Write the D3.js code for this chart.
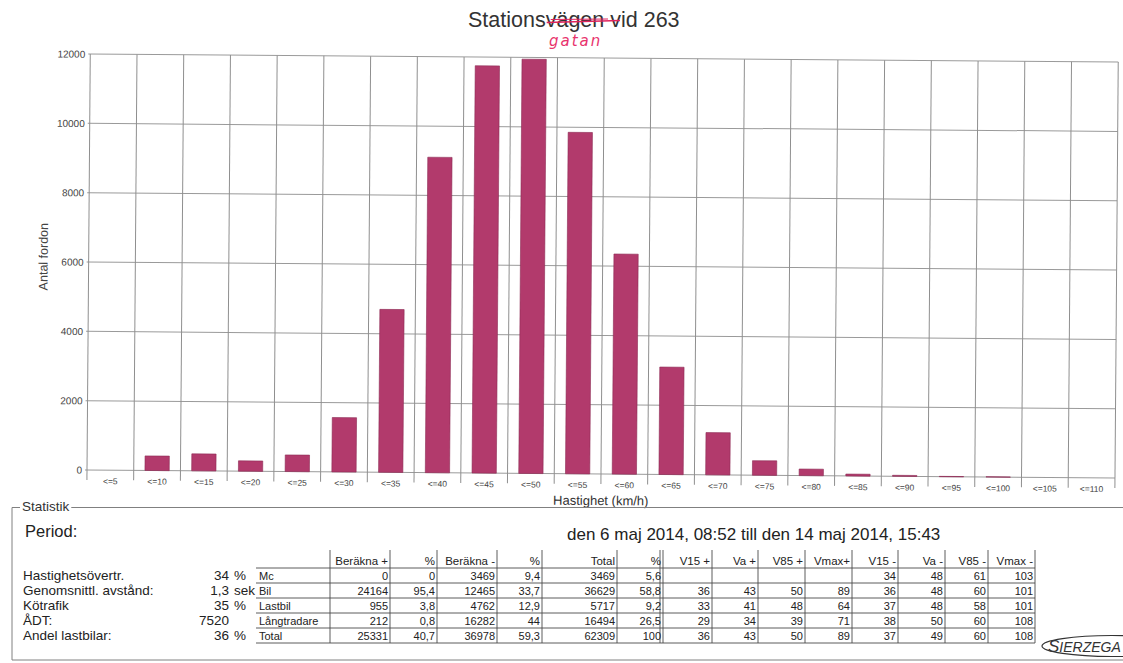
<!DOCTYPE html>
<html>
<head>
<meta charset="utf-8">
<script src="https://cdn.jsdelivr.net/npm/d3@7"></script>
<style>
body { margin: 0; background: #fff; }
svg { display: block; font-family: "Liberation Sans", Arial, sans-serif; }
</style>
</head>
<body>
<svg width="1123" height="663"></svg>
<script>
// histogram: speed classes and number of vehicles in each
var speedClasses = ["<=5", "<=10", "<=15", "<=20", "<=25", "<=30", "<=35", "<=40", "<=45", "<=50", "<=55",
                    "<=60", "<=65", "<=70", "<=75", "<=80", "<=85", "<=90", "<=95", "<=100", "<=105", "<=110"];
var vehicleCounts = [0, 420, 490, 300, 480, 1570, 4700, 9100, 11750, 11950, 9850,
                     6350, 3100, 1220, 420, 190, 55, 30, 10, 10, 0, 0];
var yTicks = [0, 2000, 4000, 6000, 8000, 10000, 12000];

// statistics block
var periodText = "den 6 maj 2014, 08:52 till den 14 maj 2014, 15:43";
var statLabels = ["Hastighetsövertr.", "Genomsnittl. avstånd:", "Kötrafik", "ÅDT:", "Andel lastbilar:"];
var statValues = ["34", "1,3", "35", "7520", "36"];
var statUnits = ["%", "sek", "%", "", "%"];

var rowLabels = ["Mc", "Bil", "Lastbil", "Långtradare", "Total"];
var colHeaders = ["Beräkna +", "%", "Beräkna -", "%", "Total", "%", "V15 +", "Va +", "V85 +", "Vmax+",
                  "V15 -", "Va -", "V85 -", "Vmax -"];
var beraknaPlus = ["0", "24164", "955", "212", "25331"];
var pctPlus = ["0", "95,4", "3,8", "0,8", "40,7"];
var beraknaMinus = ["3469", "12465", "4762", "16282", "36978"];
var pctMinus = ["9,4", "33,7", "12,9", "44", "59,3"];
var totals = ["3469", "36629", "5717", "16494", "62309"];
var pctTotal = ["5,6", "58,8", "9,2", "26,5", "100"];
var v15Plus = ["", "36", "33", "29", "36"];
var vaPlus = ["", "43", "41", "34", "43"];
var v85Plus = ["", "50", "48", "39", "50"];
var vmaxPlus = ["", "89", "64", "71", "89"];
var v15Minus = ["34", "36", "37", "38", "37"];
var vaMinus = ["48", "48", "48", "50", "49"];
var v85Minus = ["61", "60", "58", "60", "60"];
var vmaxMinus = ["103", "101", "101", "108", "108"];

var tableCols = [beraknaPlus, pctPlus, beraknaMinus, pctMinus, totals, pctTotal,
                 v15Plus, vaPlus, v85Plus, vmaxPlus, v15Minus, vaMinus, v85Minus, vmaxMinus];

var svg = d3.select("svg");

drawTitle();
drawChart();
drawStats();

/**
 * Title with the hand made correction
 */
function drawTitle() {
    var title = svg.append("text")
        .attr("x", 468)
        .attr("y", 27)
        .attr("font-size", 21.5)
        .attr("fill", "#333")
        .text("Stationsvägen vid 263");

    var node = title.node();
    var x0 = 468 + node.getSubStringLength(0, 8) + 1;
    var x1 = 468 + node.getSubStringLength(0, 15) - 1;

    svg.append("line")
       .attr("x1", x0).attr("y1", 22.5)
       .attr("x2", x1).attr("y2", 20.5)
       .attr("stroke", "#e0245e")
       .attr("stroke-width", 1.6);
    svg.append("line")
       .attr("x1", x0 + 4).attr("y1", 19.5)
       .attr("x2", x1 - 12).attr("y2", 19)
       .attr("stroke", "#e0245e")
       .attr("stroke-width", 1.2);

    svg.append("text")
       .attr("x", 549)
       .attr("y", 46)
       .attr("font-family", "DejaVu Sans")
       .attr("font-style", "italic")
       .attr("font-size", 15)
       .attr("letter-spacing", 2)
       .attr("fill", "#e8336d")
       .text("gatan");
}

/**
 * Histogram, drawn slightly tilted like the scanned page
 */
function drawChart() {
    var plot = { left: 87, right: 1115, top: 54, bottom: 470 };

    var g = svg.append("g")
               .attr("transform", "rotate(0.45," + plot.left + "," + plot.bottom + ")");

    var x = d3.scaleBand()
              .domain(speedClasses)
              .range([plot.left, plot.right])
              .paddingInner(0.48)
              .paddingOuter(0.24);

    var y = d3.scaleLinear()
              .domain([0, 12000])
              .range([plot.bottom, plot.top]);

    // horizontal grid
    g.append("g")
     .selectAll("line")
     .data(yTicks)
     .join("line")
     .attr("x1", plot.left - 2)
     .attr("x2", plot.right)
     .attr("y1", function(d) { return y(d); })
     .attr("y2", function(d) { return y(d); })
     .attr("stroke", "#9a9a9a")
     .attr("stroke-width", 1);

    // vertical grid on class borders
    var borders = d3.range(speedClasses.length + 1).map(function(i) {
        return plot.left + i * x.step();
    });
    g.append("g")
     .selectAll("line")
     .data(borders)
     .join("line")
     .attr("x1", function(d) { return d; })
     .attr("x2", function(d) { return d; })
     .attr("y1", y(12000))
     .attr("y2", plot.bottom + 10)
     .attr("stroke", "#8f8f8f")
     .attr("stroke-width", 1);

    g.append("g")
     .selectAll("rect")
     .data(vehicleCounts)
     .join("rect")
     .attr("x", function(d, i) { return x(speedClasses[i]); })
     .attr("y", function(d) { return y(d); })
     .attr("width", x.bandwidth())
     .attr("height", function(d) { return plot.bottom - y(d); })
     .attr("fill", "#b23a6c")
     .attr("stroke", "#8c2a53")
     .attr("stroke-width", 0.6);

    var xAxis = g.append("g")
                 .attr("transform", "translate(0," + plot.bottom + ")")
                 .call(d3.axisBottom(x).tickSize(0).tickPadding(8));
    xAxis.select(".domain").remove();
    xAxis.selectAll("text")
         .attr("font-family", "Liberation Sans, Arial, sans-serif")
         .attr("font-size", 8.5)
         .attr("fill", "#444");

    var yAxis = g.append("g")
                 .attr("transform", "translate(" + plot.left + ",0)")
                 .call(d3.axisLeft(y).tickValues(yTicks).tickFormat(d3.format("d")).tickSize(0).tickPadding(5));
    yAxis.select(".domain").remove();
    yAxis.selectAll("text")
         .attr("font-family", "Liberation Sans, Arial, sans-serif")
         .attr("font-size", 10)
         .attr("fill", "#444");

    g.append("text")
     .attr("transform", "rotate(-90)")
     .attr("x", -257)
     .attr("y", 46)
     .attr("text-anchor", "middle")
     .attr("font-size", 12.5)
     .attr("fill", "#444")
     .text("Antal fordon");

    g.append("text")
     .attr("x", (plot.left + plot.right) / 2)
     .attr("y", 501)
     .attr("text-anchor", "middle")
     .attr("font-size", 13)
     .attr("fill", "#333")
     .text("Hastighet (km/h)");
}

/**
 * Statistik frame with key figures and the class table
 */
function drawStats() {
    var frameColor = "#808080";

    var label = svg.append("text")
                   .attr("x", 22)
                   .attr("y", 511)
                   .attr("font-size", 13.5)
                   .attr("fill", "#333")
                   .text("Statistik");
    var labelEnd = 22 + label.node().getComputedTextLength() + 2;

    svg.append("path")
       .attr("d", "M20,507.5H12V660H1123M" + labelEnd + ",507.5H1123")
       .attr("fill", "none")
       .attr("stroke", frameColor)
       .attr("stroke-width", 1);

    svg.append("text")
       .attr("x", 25)
       .attr("y", 537)
       .attr("font-size", 16.5)
       .attr("fill", "#222")
       .text("Period:");

    svg.append("text")
       .attr("x", 567)
       .attr("y", 540)
       .attr("font-size", 17)
       .attr("fill", "#222")
       .text(periodText);

    var rowH = 15, headTop = 550, firstLine = 568;
    var rowBase = function(i) { return firstLine + rowH * (i + 1) - 3; };

    // key figures
    var st = svg.append("g").attr("font-size", 13.5).attr("fill", "#222");
    st.selectAll("text.lbl")
      .data(statLabels)
      .join("text")
      .attr("class", "lbl")
      .attr("x", 23)
      .attr("y", function(d, i) { return rowBase(i); })
      .text(function(d) { return d; });
    st.selectAll("text.val")
      .data(statValues)
      .join("text")
      .attr("class", "val")
      .attr("x", 229)
      .attr("y", function(d, i) { return rowBase(i); })
      .attr("text-anchor", "end")
      .text(function(d) { return d; });
    st.selectAll("text.unit")
      .data(statUnits)
      .join("text")
      .attr("class", "unit")
      .attr("x", 234)
      .attr("y", function(d, i) { return rowBase(i); })
      .text(function(d) { return d; });

    // class table
    var colEdges = [330, 390, 437, 497, 542, 617, 663, 712, 758, 805, 852, 898, 945, 988, 1035];
    var tbl = svg.append("g").attr("font-size", 11).attr("fill", "#222");
    var lineColor = "#4a4a4a";

    tbl.selectAll("line.h")
       .data(d3.range(rowLabels.length + 1))
       .join("line")
       .attr("class", "h")
       .attr("x1", 256)
       .attr("x2", colEdges[colEdges.length - 1])
       .attr("y1", function(i) { return firstLine + i * rowH; })
       .attr("y2", function(i) { return firstLine + i * rowH; })
       .attr("stroke", lineColor)
       .attr("stroke-width", 0.9);

    tbl.selectAll("line.v")
       .data(colEdges.concat([660]))
       .join("line")
       .attr("class", "v")
       .attr("x1", function(d) { return d; })
       .attr("x2", function(d) { return d; })
       .attr("y1", headTop)
       .attr("y2", firstLine + rowLabels.length * rowH)
       .attr("stroke", lineColor)
       .attr("stroke-width", 0.9);

    var defs = svg.append("defs");
    colHeaders.forEach(function(h, c) {
        defs.append("clipPath")
            .attr("id", "hc" + c)
            .append("rect")
            .attr("x", colEdges[c] + 1)
            .attr("y", headTop)
            .attr("width", colEdges[c + 1] - colEdges[c] - 1)
            .attr("height", firstLine - headTop);
    });

    tbl.selectAll("text.head")
       .data(colHeaders)
       .join("text")
       .attr("class", "head")
       .attr("clip-path", function(d, c) { return "url(#hc" + c + ")"; })
       .attr("x", function(d, c) { return colEdges[c + 1] - 2; })
       .attr("y", firstLine - 3)
       .attr("text-anchor", "end")
       .attr("font-size", 11.5)
       .text(function(d) { return d; });

    tbl.selectAll("text.row")
       .data(rowLabels)
       .join("text")
       .attr("class", "row")
       .attr("x", 259)
       .attr("y", function(d, i) { return rowBase(i); })
       .text(function(d) { return d; });

    tableCols.forEach(function(col, c) {
        tbl.append("g")
           .selectAll("text")
           .data(col)
           .join("text")
           .attr("x", colEdges[c + 1] - 2)
           .attr("y", function(d, i) { return rowBase(i); })
           .attr("text-anchor", "end")
           .text(function(d) { return d; });
    });

    // logo in the corner, cut off by the page edge
    svg.append("ellipse")
       .attr("cx", 1112)
       .attr("cy", 646)
       .attr("rx", 70)
       .attr("ry", 10.5)
       .attr("fill", "none")
       .attr("stroke", "#333")
       .attr("stroke-width", 1.2);
    var logo = svg.append("text")
                  .attr("x", 1048)
                  .attr("y", 652)
                  .attr("font-style", "italic")
                  .attr("fill", "#333");
    logo.append("tspan").attr("font-size", 17).text("S");
    logo.append("tspan").attr("font-size", 14).text("IERZEGA");
}
</script>
</body>
</html>
